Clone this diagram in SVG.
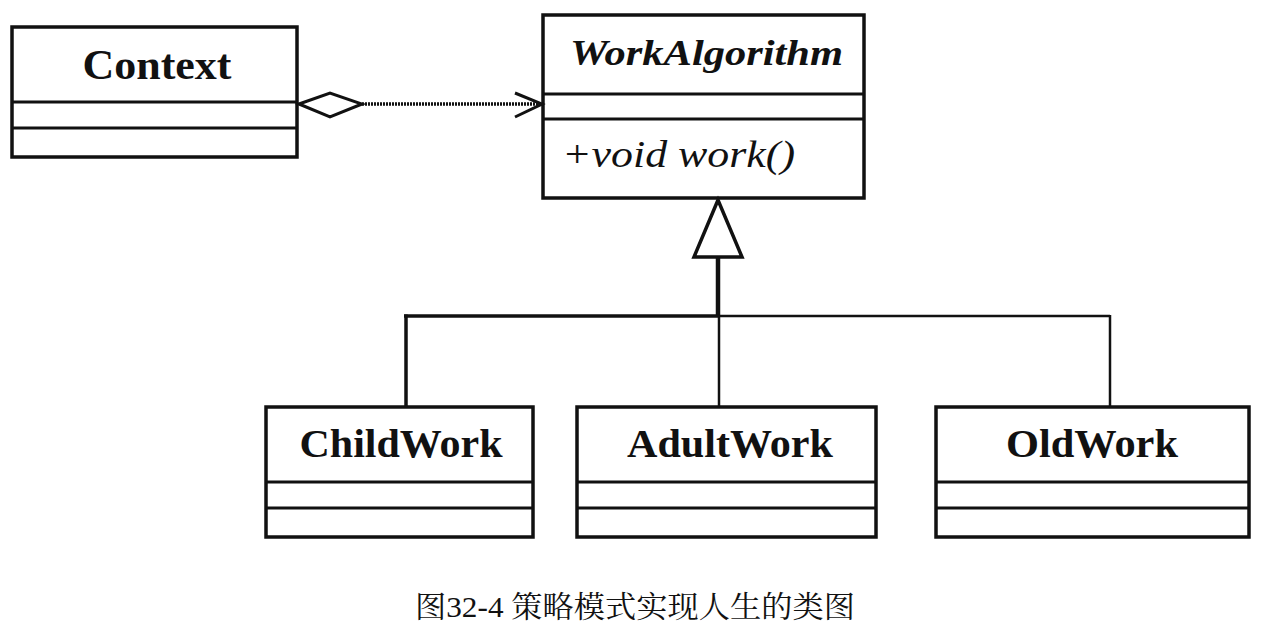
<svg xmlns="http://www.w3.org/2000/svg" width="1264" height="634" viewBox="0 0 1264 634">
<style>
.box{fill:#fff;stroke:#111;stroke-width:3.5}
.div{stroke:#111;stroke-width:3}
.name{font-family:'Liberation Serif',Tinos,'Times New Roman',Times,serif;font-weight:bold;fill:#111;text-anchor:middle}
.ital{font-family:'Liberation Serif',Tinos,'Times New Roman',Times,serif;font-style:italic;fill:#111}
.cap{font-family:'Liberation Serif','Noto Serif CJK SC','Noto Sans CJK SC',serif;fill:#111}
.conn{fill:none;stroke:#111}
</style>
<rect width="1264" height="634" fill="#fff"/>
<g id="Context">
<rect class="box" x="12" y="27" width="285" height="130"/>
<line class="div" x1="12" y1="102" x2="297" y2="102"/>
<line class="div" x1="12" y1="128" x2="297" y2="128"/>
<text class="name" x="157" y="79" font-size="43" textLength="149" lengthAdjust="spacingAndGlyphs">Context</text>
</g>
<g id="WorkAlgorithm">
<rect class="box" x="543" y="15" width="321" height="183"/>
<line class="div" x1="543" y1="94" x2="864" y2="94"/>
<line class="div" x1="543" y1="119" x2="864" y2="119"/>
<text class="ital" x="570" y="65" font-size="36" font-weight="bold" textLength="273" lengthAdjust="spacingAndGlyphs">WorkAlgorithm</text>
<text class="ital" x="562" y="167" font-size="37" textLength="233" lengthAdjust="spacingAndGlyphs">+void work()</text>
</g>
<g id="ChildWork">
<rect class="box" x="266" y="407" width="267" height="130"/>
<line class="div" x1="266" y1="482" x2="533" y2="482"/>
<line class="div" x1="266" y1="508" x2="533" y2="508"/>
<text class="name" x="401" y="457" font-size="41" textLength="203" lengthAdjust="spacingAndGlyphs">ChildWork</text>
</g>
<g id="AdultWork">
<rect class="box" x="577" y="407" width="299" height="130"/>
<line class="div" x1="577" y1="482" x2="876" y2="482"/>
<line class="div" x1="577" y1="508" x2="876" y2="508"/>
<text class="name" x="730" y="457" font-size="41" textLength="206" lengthAdjust="spacingAndGlyphs">AdultWork</text>
</g>
<g id="OldWork">
<rect class="box" x="936" y="407" width="313" height="130"/>
<line class="div" x1="936" y1="482" x2="1249" y2="482"/>
<line class="div" x1="936" y1="508" x2="1249" y2="508"/>
<text class="name" x="1092" y="457" font-size="41" textLength="172" lengthAdjust="spacingAndGlyphs">OldWork</text>
</g>
<g id="connectors">
<polygon class="conn" stroke-width="3" points="299,104 330,93 362,104 330,117"/>
<line class="conn" x1="362" y1="104" x2="541" y2="104" stroke-width="3.5" stroke-dasharray="2 1"/>
<polyline class="conn" stroke-width="3" points="515,93 542,104 515,117"/>
<polygon class="conn" stroke-width="3.5" points="718,200 694,257 742,257"/>
<line class="conn" x1="718" y1="257" x2="718" y2="317" stroke-width="4.5"/>
<line class="conn" x1="404" y1="316" x2="718" y2="316" stroke-width="3.5"/>
<line class="conn" x1="718" y1="316" x2="1110" y2="316" stroke-width="2.5"/>
<line class="conn" x1="406" y1="314.5" x2="406" y2="407" stroke-width="3.5"/>
<line class="conn" x1="719" y1="316" x2="719" y2="407" stroke-width="2.5"/>
<line class="conn" x1="1110" y1="315" x2="1110" y2="407" stroke-width="2.5"/>
</g>
<text class="cap" x="415" y="617" font-size="30" textLength="440" lengthAdjust="spacingAndGlyphs">图32-4 策略模式实现人生的类图</text>
</svg>
